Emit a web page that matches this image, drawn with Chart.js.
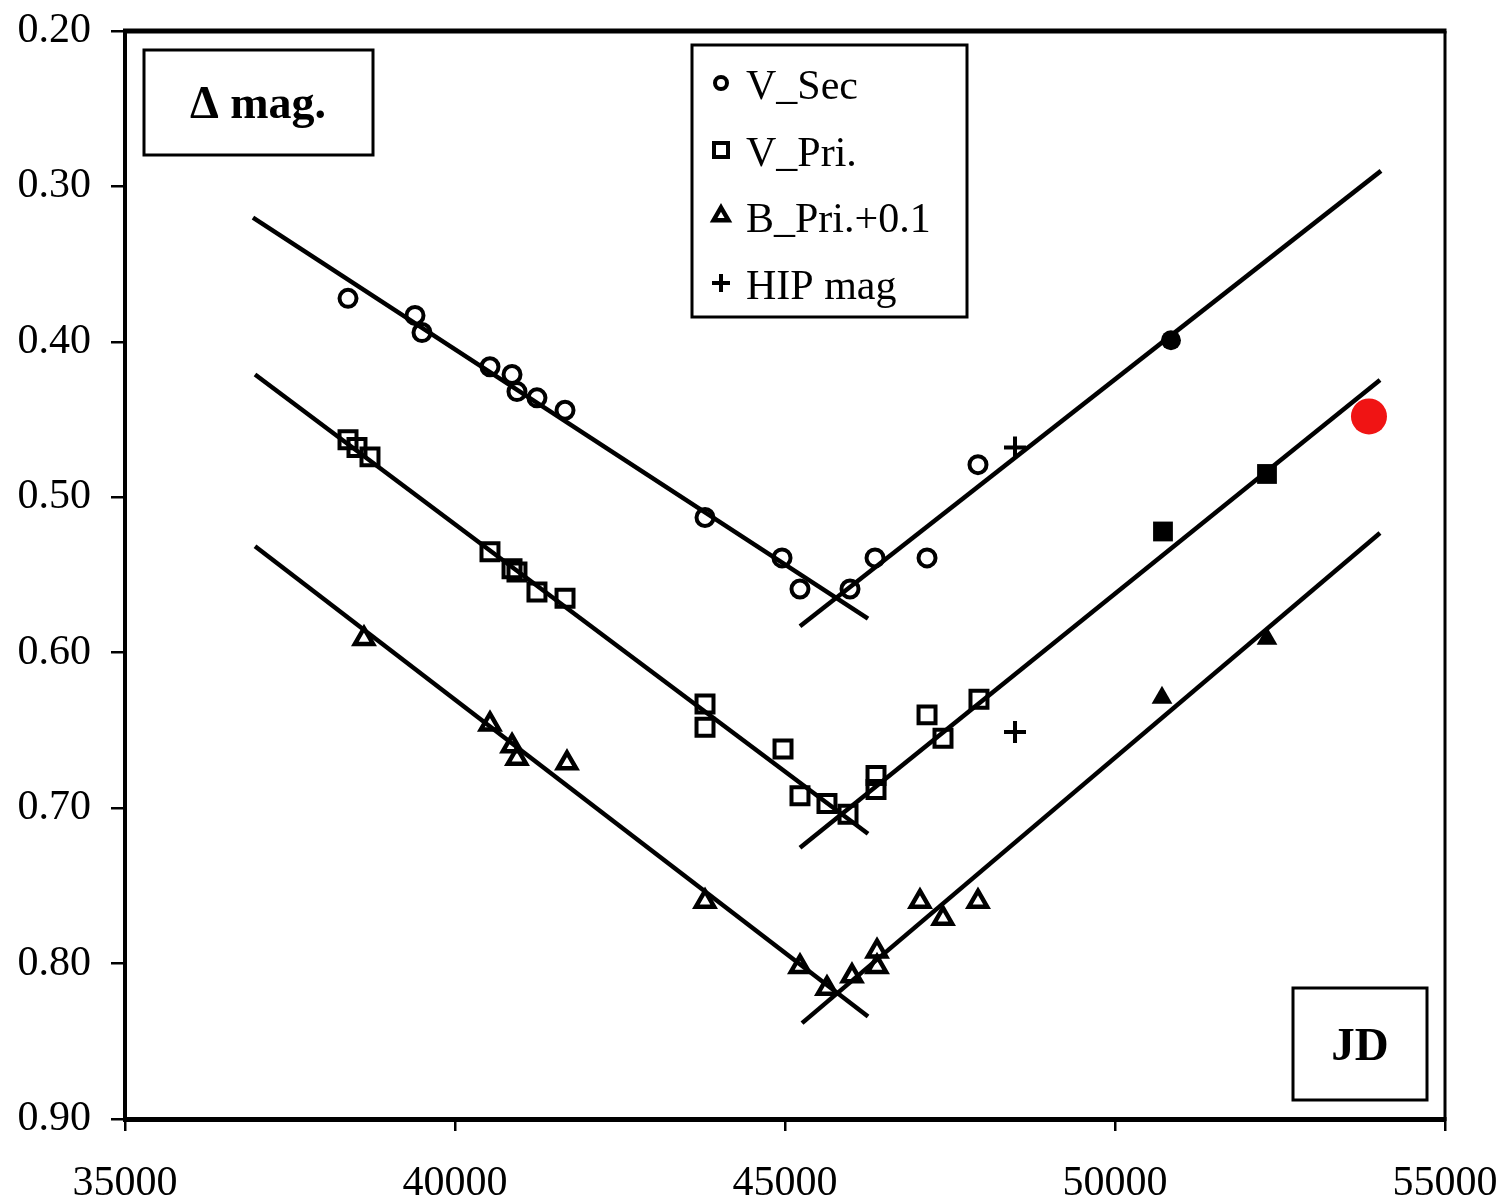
<!DOCTYPE html>
<html><head><meta charset="utf-8">
<script src="https://cdn.jsdelivr.net/npm/chart.js@4.4.1/dist/chart.umd.min.js"></script>
<style>html,body{margin:0;padding:0;background:#fff}#wrap{width:1502px;height:1203px}</style>
</head><body><div id="wrap"><canvas id="c" width="1502" height="1203"></canvas></div>
<script>
// ---- data ----
const xTickValues = [35000, 40000, 45000, 50000, 55000];
const yTickValues = [0.20, 0.30, 0.40, 0.50, 0.60, 0.70, 0.80, 0.90];
const seriesNames = ['V_Sec', 'V_Pri.', 'B_Pri.+0.1', 'HIP mag'];
const yTitle = 'Δ mag.';
const xTitle = 'JD';

const vSecJD  = [38379, 39394, 39500, 40530, 40864, 40939, 41242, 41667, 43788, 44955, 45227, 45985, 46364, 47152, 47924];
const vSecMag = [0.372, 0.383, 0.394, 0.416, 0.421, 0.432, 0.436, 0.444, 0.513, 0.539, 0.559, 0.559, 0.539, 0.539, 0.479];

const vPriJD  = [38379, 38515, 38712, 40530, 40864, 40939, 41242, 41667, 43788, 43788, 44970, 45227, 45636, 45955, 46379, 46379, 47152, 47394, 47939];
const vPriMag = [0.463, 0.468, 0.474, 0.535, 0.546, 0.548, 0.561, 0.565, 0.633, 0.648, 0.662, 0.692, 0.697, 0.704, 0.679, 0.688, 0.640, 0.655, 0.630];

const bPriJD  = [38621, 40530, 40864, 40939, 41697, 43788, 45227, 45636, 46015, 46394, 46394, 47045, 47394, 47924];
const bPriMag = [0.591, 0.646, 0.660, 0.668, 0.671, 0.760, 0.802, 0.816, 0.808, 0.792, 0.802, 0.760, 0.771, 0.760];

const hipJD  = [48485, 48485];
const hipMag = [0.468, 0.651];

// newer observations (filled symbols)
const vSecNewJD = [50848];            const vSecNewMag = [0.399];
const vPriNewJD = [50727, 52303];     const vPriNewMag = [0.522, 0.485];
const bPriNewJD = [50712, 52303];     const bPriNewMag = [0.629, 0.591];
const latestJD  = [53848];            const latestMag  = [0.448];

// fitted linear trends (two end points each)
const fitSecDownJD = [36939, 46258]; const fitSecDownMag = [0.320, 0.578];
const fitSecUpJD   = [45227, 54030]; const fitSecUpMag   = [0.583, 0.290];
const fitPriDownJD = [36970, 46258]; const fitPriDownMag = [0.421, 0.7165];
const fitPriUpJD   = [45227, 54015]; const fitPriUpMag   = [0.7255, 0.4245];
const fitBDownJD   = [36970, 46258]; const fitBDownMag   = [0.5315, 0.834];
const fitBUpJD     = [45258, 54015]; const fitBUpMag     = [0.8383, 0.523];

// ---- helpers ----
const pts = (xs, ys) => xs.map((x, i) => ({x: x, y: ys[i]}));
const FONT = '"Liberation Serif", "Times New Roman", serif';
const BLACK = '#000';

function lineDs(xs, ys) {
  return {data: pts(xs, ys), showLine: true, borderColor: BLACK, borderWidth: 4.5,
          pointRadius: 0, pointHoverRadius: 0, fill: false, order: 5};
}

const datasets = [
  {label: seriesNames[0], data: pts(vSecJD, vSecMag), pointStyle: 'circle', pointRadius: 8.5,
   borderWidth: 4, borderColor: BLACK, backgroundColor: 'rgba(0,0,0,0)', order: 1},
  {label: seriesNames[1], data: pts(vPriJD, vPriMag), pointStyle: 'rect', pointRadius: 12,
   borderWidth: 4, borderColor: BLACK, backgroundColor: 'rgba(0,0,0,0)', order: 1},
  {label: seriesNames[2], data: pts(bPriJD, bPriMag), pointStyle: 'triangle', pointRadius: 10.5,
   borderWidth: 4.5, borderColor: BLACK, backgroundColor: 'rgba(0,0,0,0)', order: 1},
  {label: seriesNames[3], data: pts(hipJD, hipMag), pointStyle: 'cross', pointRadius: 11,
   borderWidth: 4, borderColor: BLACK, backgroundColor: BLACK, order: 1},
  {data: pts(vSecNewJD, vSecNewMag), pointStyle: 'circle', pointRadius: 10,
   borderWidth: 0, backgroundColor: BLACK, order: 1},
  {data: pts(vPriNewJD, vPriNewMag), pointStyle: 'rect', pointRadius: 14,
   borderWidth: 0, backgroundColor: BLACK, order: 1},
  {data: pts(bPriNewJD, bPriNewMag), pointStyle: 'triangle', pointRadius: 12,
   borderWidth: 0, backgroundColor: BLACK, order: 1},
  {data: pts(latestJD, latestMag), pointStyle: 'circle', pointRadius: 18,
   borderWidth: 0, backgroundColor: '#f01414', order: 0},
  lineDs(fitSecDownJD, fitSecDownMag), lineDs(fitSecUpJD, fitSecUpMag),
  lineDs(fitPriDownJD, fitPriDownMag), lineDs(fitPriUpJD, fitPriUpMag),
  lineDs(fitBDownJD, fitBDownMag), lineDs(fitBUpJD, fitBUpMag)
];

// frame, label boxes and legend
const decorPlugin = {
  id: 'decor',
  afterDraw(chart) {
    const ctx = chart.ctx, a = chart.chartArea;
    ctx.save();
    ctx.strokeStyle = BLACK;
    // top and right frame
    ctx.lineWidth = 5;
    ctx.beginPath(); ctx.moveTo(a.left - 2, a.top); ctx.lineTo(a.right + 1.5, a.top); ctx.stroke();
    ctx.lineWidth = 3;
    ctx.beginPath(); ctx.moveTo(a.right, a.top); ctx.lineTo(a.right, a.bottom + 2); ctx.stroke();

    // title boxes
    ctx.lineWidth = 3;
    ctx.strokeRect(144, 50, 229, 105);
    ctx.strokeRect(1293, 988, 134, 112);
    ctx.fillStyle = BLACK;
    ctx.textAlign = 'center';
    ctx.textBaseline = 'alphabetic';
    ctx.font = 'bold 46px ' + FONT;
    ctx.fillText(yTitle, 258, 118);
    ctx.font = 'bold 47px ' + FONT;
    ctx.fillText(xTitle, 1360, 1060);

    // legend
    ctx.lineWidth = 3;
    ctx.strokeRect(692, 45, 275, 272);
    ctx.font = '42px ' + FONT;
    ctx.textAlign = 'left';
    const baseY = [99, 166, 232, 299];
    const mx = 721;
    for (let i = 0; i < seriesNames.length; i++) {
      const cy = baseY[i] - 16;
      ctx.lineWidth = 4;
      ctx.beginPath();
      if (i === 0) { ctx.arc(mx, cy, 6, 0, Math.PI * 2); ctx.stroke(); }
      else if (i === 1) { ctx.strokeRect(mx - 7, cy - 7, 14, 14); }
      else if (i === 2) {
        const r = 8.5;
        ctx.moveTo(mx, cy - r);
        ctx.lineTo(mx + r * 0.866, cy + r * 0.5);
        ctx.lineTo(mx - r * 0.866, cy + r * 0.5);
        ctx.closePath(); ctx.lineWidth = 4.5; ctx.stroke();
      } else {
        ctx.moveTo(mx - 9, cy); ctx.lineTo(mx + 9, cy);
        ctx.moveTo(mx, cy - 9); ctx.lineTo(mx, cy + 9); ctx.stroke();
      }
      ctx.fillText(seriesNames[i], 746, baseY[i]);
    }
    ctx.restore();
  }
};

new Chart(document.getElementById('c'), {
  type: 'scatter',
  data: {datasets: datasets},
  plugins: [decorPlugin],
  options: {
    responsive: false, animation: false, devicePixelRatio: 1,
    layout: {padding: {top: 31, right: 57, left: 0, bottom: 0}},
    plugins: {legend: {display: false}, tooltip: {enabled: false}},
    scales: {
      x: {
        type: 'linear', min: 35000, max: 55000,
        afterBuildTicks(s) { s.ticks = xTickValues.map(v => ({value: v})); },
        afterFit(s) { s.height = 84; s.paddingLeft = 0; s.paddingRight = 0; },
        ticks: {color: BLACK, font: {family: FONT, size: 42}, padding: 28, maxRotation: 0,
                callback: v => String(v)},
        grid: {drawOnChartArea: false, drawTicks: true, tickLength: 12, color: BLACK, lineWidth: 2.5},
        border: {display: true, color: BLACK, width: 5}
      },
      y: {
        type: 'linear', min: 0.2, max: 0.9, reverse: true,
        afterBuildTicks(s) { s.ticks = yTickValues.map(v => ({value: v})); },
        afterFit(s) { s.width = 125; s.paddingTop = 0; s.paddingBottom = 0; },
        ticks: {color: BLACK, font: {family: FONT, size: 42}, padding: 20,
                callback: v => Number(v).toFixed(2)},
        grid: {drawOnChartArea: false, drawTicks: true, tickLength: 14, color: BLACK, lineWidth: 2.5},
        border: {display: true, color: BLACK, width: 4}
      }
    }
  }
});
</script></body></html>
